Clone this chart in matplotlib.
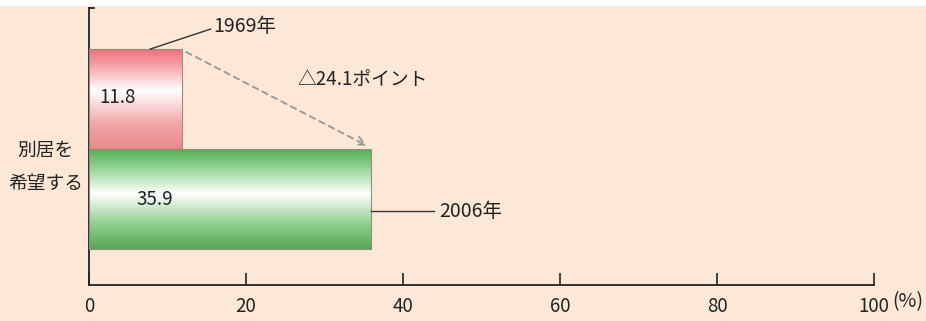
import numpy as np
import matplotlib
matplotlib.use("Agg")
import matplotlib.pyplot as plt
from matplotlib.colors import LinearSegmentedColormap

plt.rcParams['font.family'] = ['Noto Sans CJK JP', 'DejaVu Sans']

# data
years = ["2006年", "1969年"]
values = [35.9, 11.8]
category = "別居を\n希望する"
change_label = "△24.1ポイント"
xticks = [0, 20, 40, 60, 80, 100]
xtick_labels = ["0", "20", "40", "60", "80", "100"]

bg = "#fde8d8"
W, H = 926, 321
fig = plt.figure(figsize=(W / 100, H / 100), dpi=100, facecolor=bg)
ax = fig.add_axes([89 / W, (H - 285) / H, (874 - 89) / W, (285 - 8) / H])
ax.set_facecolor(bg)

ypos = [0, 1]
bars = ax.barh(ypos, values, height=1.0, color="none", edgecolor="none", zorder=2)

# vertical gradient fills: coloured at top and bottom, white in the middle
cmaps = [
    LinearSegmentedColormap.from_list("g", [(0, "#4fae4f"), (0.18, "#8fd08f"), (0.45, "#ffffff"),
                                             (0.75, "#8fcf8f"), (1, "#55a855")]),
    LinearSegmentedColormap.from_list("r", [(0, "#ef6f78"), (0.15, "#f59aa0"), (0.42, "#ffffff"),
                                             (0.75, "#f2a6a8"), (1, "#e98a8c")]),
]
grad = np.linspace(0, 1, 256).reshape(-1, 1)
for bar, cm in zip(bars, cmaps):
    x0, y0 = bar.get_x(), bar.get_y()
    w, h = bar.get_width(), bar.get_height()
    im = ax.imshow(grad, cmap=cm, aspect="auto", extent=(x0, x0 + w, y0, y0 + h),
                   origin="upper", zorder=2, interpolation="bicubic")
    im.set_clip_path(bar)
    ax.add_patch(plt.Rectangle((x0, y0), w, h, fill=False, edgecolor="#9a8a80",
                               linewidth=0.8, zorder=3))

ax.set_xlim(0, 100)
ax.set_ylim(-0.855, 1.91)

# value labels inside the bars
ax.text(6.0, ypos[0], f"{values[0]:.1f}", ha="left", va="center",
        fontsize=13.5, color="#222222", zorder=4)
ax.text(1.3, ypos[1] + 0.02, f"{values[1]:.1f}", ha="left", va="center",
        fontsize=13.5, color="#222222", zorder=4)

# year callouts
ax.plot([7.8, 15.5], [1.5, 1.7], color="#333333", lw=1.0, clip_on=False, zorder=4)
ax.text(15.8, 1.73, years[1], ha="left", va="center", fontsize=14, color="#222222")
ax.plot([values[0], 44.0], [-0.12, -0.12], color="#333333", lw=1.0, clip_on=False, zorder=4)
ax.text(44.6, -0.12, years[0], ha="left", va="center", fontsize=14, color="#222222")

# change arrow between the two bar ends
ax.annotate("", xy=(values[0] - 0.5, 0.535), xytext=(values[1] + 0.6, 1.47),
            arrowprops=dict(arrowstyle="->", color="#9a9a9a", lw=1.4, linestyle=(0, (3, 2.5)),
                            mutation_scale=16, shrinkA=0, shrinkB=0), zorder=4)
ax.text(26.5, 1.2, change_label, ha="left", va="center", fontsize=13.5, color="#222222")

# category label left of the axis
fig.text(46 / W, 1 - 167 / H, category, ha="center", va="center", fontsize=13.5,
         color="#222222", linespacing=1.75)

# axes styling
for s in ["top", "right"]:
    ax.spines[s].set_visible(False)
for s in ["left", "bottom"]:
    ax.spines[s].set_color("#222222")
    ax.spines[s].set_linewidth(1.3)
ax.set_yticks([])
ax.set_xticks(xticks)
ax.set_xticklabels(xtick_labels)
ax.tick_params(axis="x", direction="in", length=9, width=1.2, color="#222222",
               labelsize=13.5, pad=8, labelcolor="#222222")
# short cap at the top of the vertical axis
ax.plot([0, 0.007], [1.0, 1.0], transform=ax.transAxes, color="#222222", lw=1.3, clip_on=False)
fig.text(892 / W, 1 - 302 / H, "(%)", ha="left", va="center", fontsize=14, color="#222222")

# white strip along the top edge
fig.patches.append(plt.Rectangle((0, 1 - 6 / H), 1, 6 / H, transform=fig.transFigure,
                                 facecolor="white", edgecolor="none"))

fig.savefig("out.png", dpi=100, facecolor=bg)
